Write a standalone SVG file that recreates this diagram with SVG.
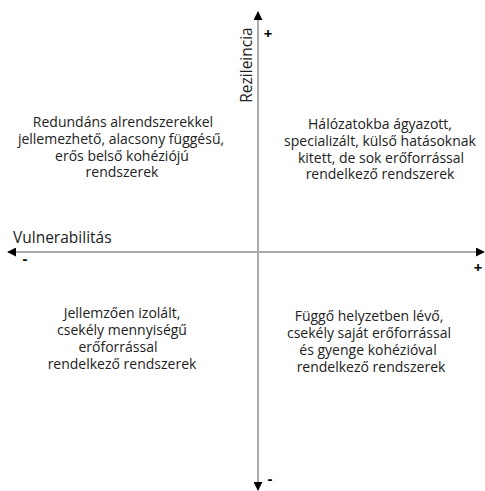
<svg xmlns="http://www.w3.org/2000/svg" width="485" height="491" viewBox="0 0 485 491">
  <style>
    .t { font-family: "Open Sans", "Noto Sans", "DejaVu Sans", sans-serif; font-size: 14px; fill: #222; }
    .c { text-anchor: middle; }
    .lb { font-size: 15.5px; }
    .ax { stroke: #aaaaaa; stroke-width: 2; fill: none; }
    .sg { font-family: "Open Sans", "DejaVu Sans", sans-serif; font-size: 15px; font-weight: bold; fill: #000; text-anchor: middle; }
  </style>
  <defs>
    <marker id="arr" viewBox="0 0 10 10" refX="9" refY="5" markerWidth="4.5" markerHeight="4.5" orient="auto" markerUnits="strokeWidth">
      <path d="M0,0 L10,5 L0,10 z" fill="#000"/>
    </marker>
  </defs>
  <rect width="485" height="491" fill="#fff"/>
  <g id="connectors">
    <line class="ax" x1="258" y1="252" x2="258" y2="12" marker-end="url(#arr)"/>
    <line class="ax" x1="258" y1="252" x2="258" y2="490" marker-end="url(#arr)"/>
    <line class="ax" x1="258" y1="252" x2="8" y2="252" marker-end="url(#arr)"/>
    <line class="ax" x1="258" y1="252" x2="484" y2="252" marker-end="url(#arr)"/>
  </g>
  <g id="axis-labels">
    <text class="t lb" transform="translate(252,65) rotate(-90)" text-anchor="middle">Rezileincia</text>
    <text class="t lb" x="13" y="243">Vulnerabilitás</text>
    <text class="sg" x="268" y="39">+</text>
    <text class="sg" x="478" y="273">+</text>
    <text class="sg" x="25" y="264">-</text>
    <text class="sg" x="270" y="484">-</text>
  </g>
  <g id="q-top-left">
    <text class="t c" x="123" y="127">Redundáns alrendszerekkel</text>
    <text class="t c" x="121" y="144">jellemezhető, alacsony függésű,</text>
    <text class="t c" x="122" y="161">erős belső kohéziójú</text>
    <text class="t c" x="122" y="177">rendszerek</text>
  </g>
  <g id="q-top-right">
    <text class="t c" x="380" y="129">Hálózatokba ágyazott,</text>
    <text class="t c" x="380" y="146">specializált, külső hatásoknak</text>
    <text class="t c" x="381" y="163">kitett, de sok erőforrással</text>
    <text class="t c" x="380" y="179">rendelkező rendszerek</text>
  </g>
  <g id="q-bottom-left">
    <text class="t c" x="122" y="318">Jellemzően izolált,</text>
    <text class="t c" x="122" y="335">csekély mennyiségű</text>
    <text class="t c" x="118" y="352">erőforrással</text>
    <text class="t c" x="122" y="369">rendelkező rendszerek</text>
  </g>
  <g id="q-bottom-right">
    <text class="t c" x="369" y="321">Függő helyzetben lévő,</text>
    <text class="t c" x="369" y="338">csekély saját erőforrással</text>
    <text class="t c" x="368" y="355">és gyenge kohézióval</text>
    <text class="t c" x="371" y="372">rendelkező rendszerek</text>
  </g>
</svg>
